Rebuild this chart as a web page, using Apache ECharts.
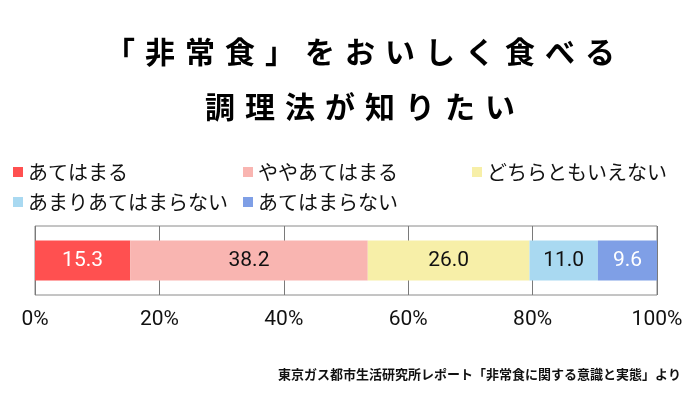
<!DOCTYPE html>
<html>
<head>
<meta charset="utf-8">
<script src="https://cdn.jsdelivr.net/npm/echarts@6/dist/echarts.min.js"></script>
<style>html,body{margin:0;padding:0;background:#fff;}#c{width:700px;height:394px;}</style>
</head>
<body>
<div id="c"></div>
<script>
const TITLE1 = '「非常食」をおいしく食べる';
const TITLE2 = '調理法が知りたい';
const SOURCE = '東京ガス都市生活研究所レポート「非常食に関する意識と実態」より';
const categories = ['あてはまる', 'ややあてはまる', 'どちらともいえない', 'あまりあてはまらない', 'あてはまらない'];
const values = [15.3, 38.2, 26.0, 11.0, 9.6];
const colors = ['#FF5050', '#F9B5B1', '#F7EFA8', '#A9D9F1', '#7F9FE6'];
const labelColors = ['#ffffff', '#111111', '#111111', '#111111', '#ffffff'];
const tickValues = [0, 20, 40, 60, 80, 100];

const JP = '"Noto Sans CJK JP", sans-serif';
const NUM = 'Roboto, "Liberation Sans", sans-serif';

function spaced(s) { return Array.from(s).map(c => '{c|' + c + '}').join(''); }
const titleRich = { c: { fontSize: 30, fontWeight: 'bold', fontFamily: JP, color: '#111', padding: [0, 5, 0, 5] } };

const legendPos = [
  { left: 13, top: 162 }, { left: 243, top: 162 }, { left: 472, top: 162 },
  { left: 13, top: 192 }, { left: 243, top: 192 }
];

const chart = echarts.init(document.getElementById('c'));
chart.setOption({
  animation: false,
  backgroundColor: '#fff',
  graphic: [
    { type: 'text', x: 360, y: 52, style: { text: spaced(TITLE1), rich: titleRich, align: 'center', verticalAlign: 'middle' } },
    { type: 'text', x: 360, y: 107, style: { text: spaced(TITLE2), rich: titleRich, align: 'center', verticalAlign: 'middle' } },
    { type: 'text', x: 681, y: 374, style: { text: SOURCE, fontSize: 13, fontWeight: 'bold', fontFamily: JP, fill: '#111', align: 'right', verticalAlign: 'middle' } }
  ],
  legend: categories.map((name, i) => ({
    data: [name],
    left: legendPos[i].left,
    top: legendPos[i].top,
    padding: 0,
    icon: 'rect',
    itemWidth: 10,
    itemHeight: 10,
    selectedMode: false,
    textStyle: { fontSize: 20, fontFamily: JP, color: '#111', lineHeight: 20, padding: [0, 0, 0, 0] }
  })),
  grid: { left: 35, right: 43, top: 226, bottom: 99, show: true, borderColor: '#8a8a8a', borderWidth: 1, containLabel: false },
  xAxis: {
    type: 'value', min: 0, max: 100, interval: 20,
    axisLine: { show: false }, axisTick: { show: false },
    splitLine: { show: true, lineStyle: { color: '#7a7a7a', width: 1 } },
    axisLabel: { formatter: v => tickValues.includes(v) ? v + '%' : '', fontSize: 21, fontFamily: NUM, color: '#111', margin: 14 }
  },
  yAxis: {
    type: 'category', data: [''],
    axisLine: { show: false }, axisTick: { show: false }, axisLabel: { show: false }
  },
  series: categories.map((name, i) => ({
    name: name,
    type: 'bar',
    stack: 'total',
    barWidth: 40,
    data: [values[i]],
    itemStyle: { color: colors[i] },
    label: { show: true, position: 'inside', formatter: p => p.value.toFixed(1), color: labelColors[i], fontSize: 21, fontFamily: NUM, textBorderWidth: 0 }
  }))
});
</script>
</body>
</html>
